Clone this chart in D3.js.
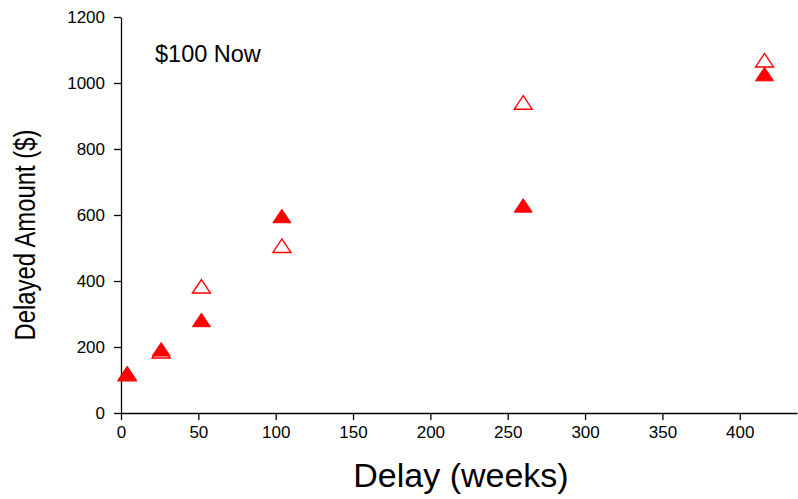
<!DOCTYPE html>
<html>
<head>
<meta charset="utf-8">
<script src="https://cdn.jsdelivr.net/npm/d3@7"></script>
<style>
  html, body { margin: 0; padding: 0; background: #fff; }
  svg { display: block; font-family: "Liberation Sans", Arial, sans-serif; }
</style>
</head>
<body>
<svg id="chart" width="798" height="499"></svg>
<script>
// Delay to the larger reward, in weeks
const delays = [4, 26, 52, 104, 260, 416];
// Indifference amounts for the two conditions ($)
const filledValues = [121, 193, 282, 597, 629, 1027];
const openValues = [118, 187, 384, 507, 941, 1069];
// Axis ticks
const xTicks = [0, 50, 100, 150, 200, 250, 300, 350, 400];
const yTicks = [0, 200, 400, 600, 800, 1000, 1200];

const svg = d3.select("#chart");
const red = "#ff0000";

const x = d3.scaleLinear().domain([0, 437]).range([121, 797]);
const y = d3.scaleLinear().domain([0, 1200]).range([413, 17]);

// X axis
const xAxis = svg.append("g")
  .attr("transform", `translate(0,${y(0)})`)
  .call(d3.axisBottom(x).tickValues(xTicks).tickFormat(d3.format("d"))
    .tickSize(7).tickPadding(6).tickSizeOuter(0));
// Y axis
const yAxis = svg.append("g")
  .attr("transform", `translate(${x(0)},0)`)
  .call(d3.axisLeft(y).tickValues(yTicks).tickFormat(d3.format("d"))
    .tickSize(7).tickPadding(9).tickSizeOuter(0));

[xAxis, yAxis].forEach(g => {
  g.select(".domain").attr("stroke", "#000").attr("stroke-width", 1.3);
  g.selectAll(".tick line").attr("stroke", "#000").attr("stroke-width", 1.3);
  g.selectAll(".tick text")
    .attr("fill", "#000")
    .style("font-size", "17px")
    .style("font-family", "Liberation Sans, Arial, sans-serif");
});

// Triangle marker, centred on its bounding box
const tw = 18, th = 13.5;
const tri = `M0,${-th/2}L${tw/2},${th/2}L${-tw/2},${th/2}Z`;

const pts = delays.map((d, i) => ({ d, filled: filledValues[i], open: openValues[i] }));

svg.append("g").selectAll("path.open")
  .data(pts).join("path")
  .attr("class", "open")
  .attr("d", tri)
  .attr("transform", p => `translate(${x(p.d)},${y(p.open)})`)
  .attr("fill", "none")
  .attr("stroke", red)
  .attr("stroke-width", 1.4);

svg.append("g").selectAll("path.filled")
  .data(pts).join("path")
  .attr("class", "filled")
  .attr("d", tri)
  .attr("transform", p => `translate(${x(p.d)},${y(p.filled)})`)
  .attr("fill", red)
  .attr("stroke", red)
  .attr("stroke-width", 1);

// In-plot label
svg.append("text")
  .attr("x", 155)
  .attr("y", 62)
  .attr("fill", "#000")
  .style("font-size", "23.5px")
  .text("$100 Now");

// Axis titles
svg.append("text")
  .attr("x", 461)
  .attr("y", 487)
  .attr("text-anchor", "middle")
  .attr("fill", "#000")
  .style("font-size", "34px")
  .text("Delay (weeks)");

svg.append("text")
  .attr("transform", "translate(35,235) rotate(-90)")
  .attr("text-anchor", "middle")
  .attr("fill", "#000")
  .attr("textLength", 211)
  .attr("lengthAdjust", "spacingAndGlyphs")
  .style("font-size", "29px")
  .text("Delayed Amount ($)");
</script>
</body>
</html>
